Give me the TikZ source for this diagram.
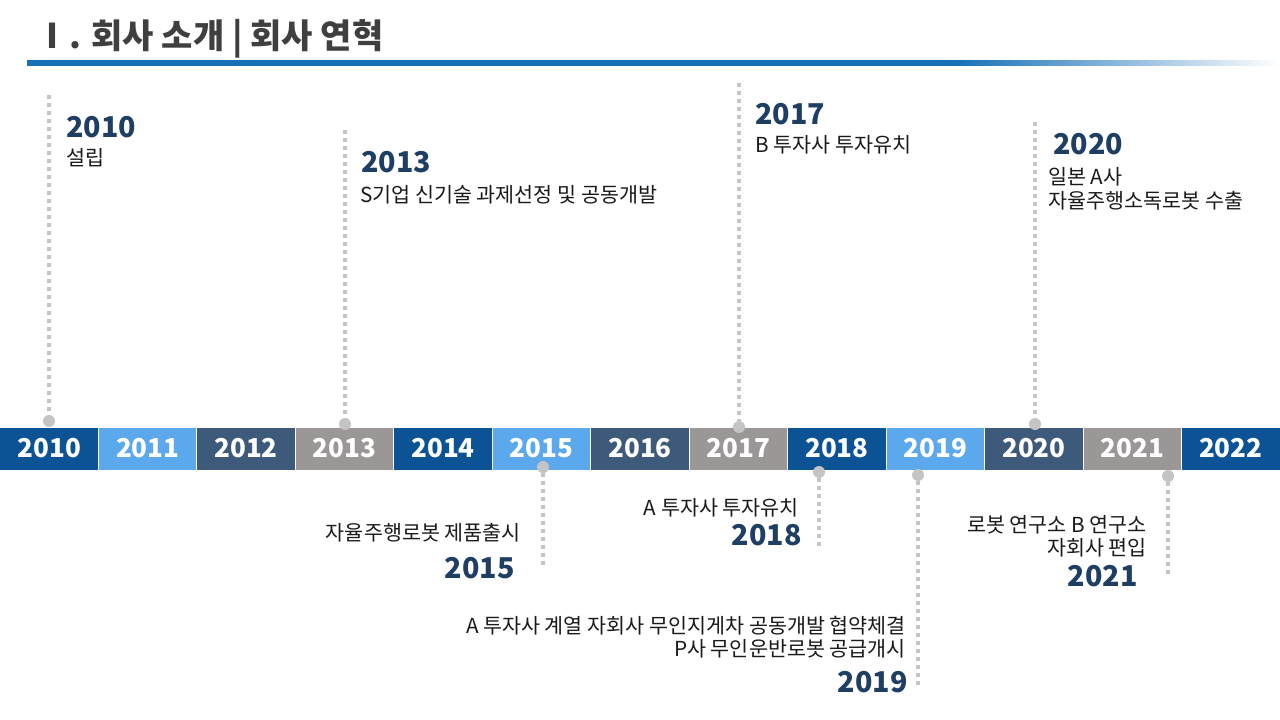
\documentclass[tikz,border=0pt]{standalone}
\usepackage{fontspec}
\setmainfont{Noto Sans CJK KR}
\definecolor{dblue}{HTML}{0B5394}
\definecolor{lblue}{HTML}{5BA8EC}
\definecolor{slate}{HTML}{3E5A7A}
\definecolor{gray1}{HTML}{9B9797}
\definecolor{navy}{HTML}{1F3E63}
\definecolor{dotgray}{HTML}{C4C4C4}
\definecolor{titleblue}{HTML}{1570B8}
\definecolor{titlegray}{HTML}{3F3F3F}
\definecolor{txt}{HTML}{1A1A1A}
\pgfdeclarehorizontalshading{tline}{100bp}{color(0bp)=(titleblue); color(62bp)=(titleblue); color(75bp)=(white); color(100bp)=(white)}
\begin{document}
\begin{tikzpicture}[x=0.75pt,y=-0.75pt,
  yr/.style={font=\fontsize{21.5}{26}\selectfont\bfseries, text=navy, inner sep=0},
  desc/.style={font=\fontsize{15.5}{17.5}\selectfont, text=txt, inner sep=0},
  dotline/.style={draw=dotgray, line width=3pt, dash pattern=on 3pt off 3pt},
  dot/.style={circle, fill=dotgray, minimum size=9pt, inner sep=0},
  barbox/.style={minimum width=73.85pt, minimum height=32.25pt, draw=white, line width=0.75pt,
     text=white, font=\fontsize{19.5}{24}\selectfont\bfseries, inner sep=0}]
\useasboundingbox (0,0) rectangle (1280,720);
\fill[white] (0,0) rectangle (1280,720);
% title
\node[anchor=west, font=\fontsize{25.5}{30}\selectfont\bfseries, text=titlegray, inner sep=0] (title) at (35,39) {Ⅰ. 회사 소개 | 회사 연혁};
\shade[shading=tline] (27,61) rectangle (1280,66);
% bar
\foreach \yr/\col [count=\i from 0] in {2010/dblue,2011/lblue,2012/slate,2013/gray1,2014/dblue,2015/lblue,2016/slate,2017/gray1,2018/dblue,2019/lblue,2020/slate,2021/gray1,2022/dblue}
  \node[barbox, fill=\col] (b\yr) at ({49.23+98.46*\i},448.5) {\yr};
% 2010
\coordinate (t2010) at (49,95);
\node[dot] (c2010) at (49,421) {};
\draw[dotline] (t2010) -- (c2010);
\node[yr, anchor=west] (y2010) at (66,127) {2010};
\node[desc, anchor=west] (d2010) at (66,158) {설립};
% 2013
\coordinate (t2013) at (345,130);
\node[dot] (c2013) at (345,424) {};
\draw[dotline] (t2013) -- (c2013);
\node[yr, anchor=west] (y2013) at (361,162) {2013};
\node[desc, anchor=west] (d2013) at (360,195) {S기업 신기술 과제선정 및 공동개발};
% 2017
\coordinate (t2017) at (739,83);
\node[dot] (c2017) at (739,427) {};
\draw[dotline] (t2017) -- (c2017);
\node[yr, anchor=west] (y2017) at (755,114) {2017};
\node[desc, anchor=west] (d2017) at (755,145) {B 투자사 투자유치};
% 2020
\coordinate (t2020) at (1035,122);
\node[dot] (c2020) at (1035,424) {};
\draw[dotline] (t2020) -- (c2020);
\node[yr, anchor=west] (y2020) at (1053,144) {2020};
\node[desc, anchor=west, align=left] (d2020) at (1048,189) {일본 A사\\자율주행소독로봇 수출};
% 2015
\node[dot] (c2015) at (543,467) {};
\coordinate (e2015) at (543,567);
\draw[dotline] (c2015) -- (e2015);
\node[desc, anchor=east] (d2015) at (521,533) {자율주행로봇 제품출시};
\node[yr, anchor=east] (y2015) at (515,568) {2015};
% 2018
\node[dot] (c2018) at (819,472) {};
\coordinate (e2018) at (819,548);
\draw[dotline] (c2018) -- (e2018);
\node[desc, anchor=east] (d2018) at (799,508) {A 투자사 투자유치};
\node[yr, anchor=east] (y2018) at (802,535) {2018};
% 2019
\node[dot] (c2019) at (918,475) {};
\coordinate (e2019) at (918,688);
\draw[dotline] (c2019) -- (e2019);
\node[desc, anchor=east, align=right] (d2019) at (906,637) {A 투자사 계열 자회사 무인지게차 공동개발 협약체결\\P사 무인운반로봇 공급개시};
\node[yr, anchor=east] (y2019) at (908,682) {2019};
% 2021
\node[dot] (c2021) at (1168,476) {};
\coordinate (e2021) at (1168,575);
\draw[dotline] (c2021) -- (e2021);
\node[desc, anchor=east, align=right] (d2021) at (1147,536) {로봇 연구소 B 연구소\\자회사 편입};
\node[yr, anchor=east] (y2021) at (1138,576) {2021};
\end{tikzpicture}
\end{document}
